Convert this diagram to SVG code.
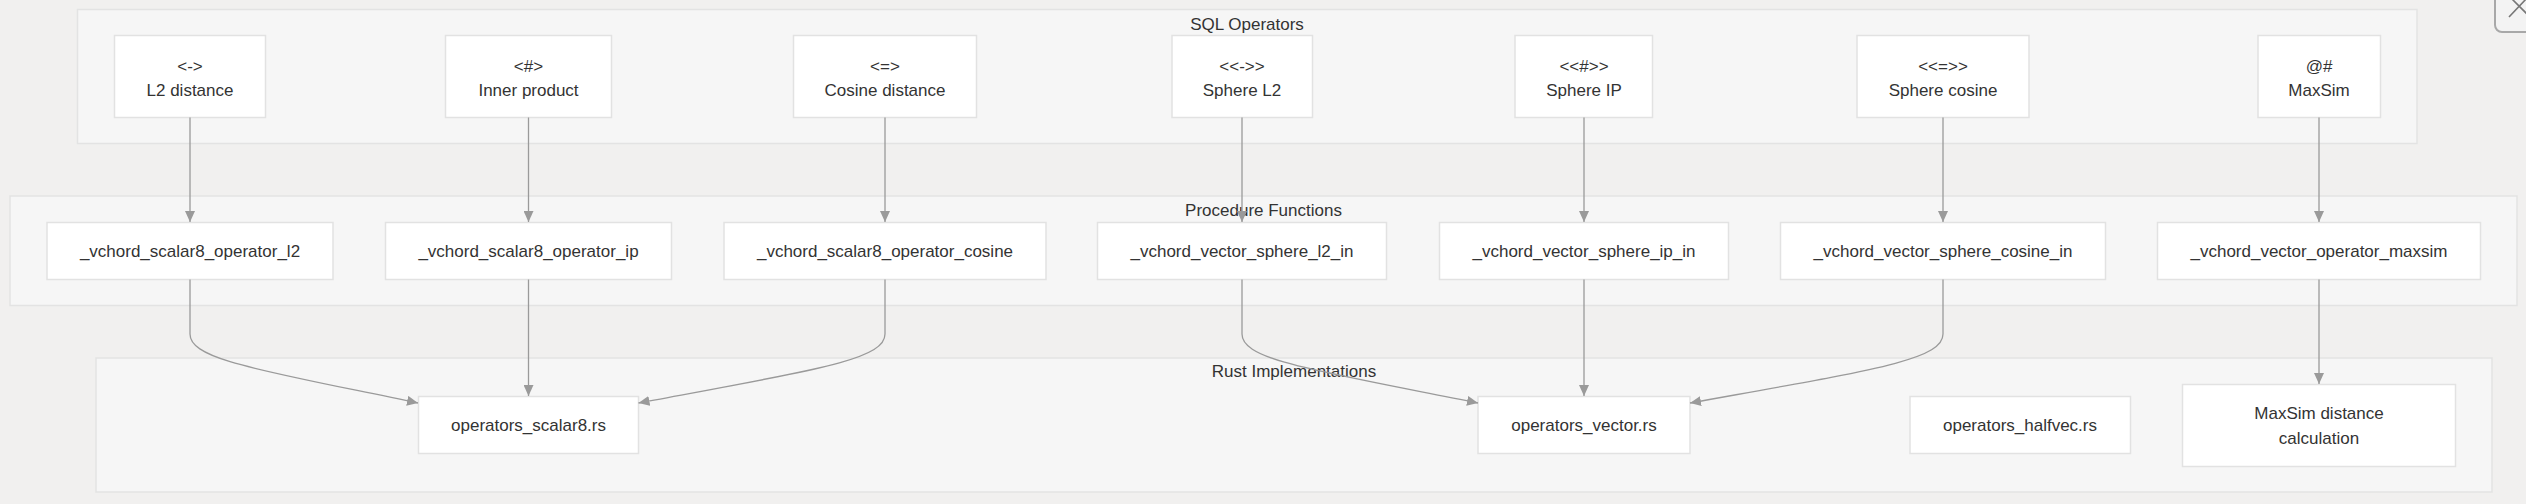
<svg xmlns="http://www.w3.org/2000/svg" width="2526" height="504" viewBox="0 0 2526 504">
<style>
.bg{fill:#f1f0ef}
.cl{fill:#f6f6f6;stroke:#e3e3e3;stroke-width:1.5}
.nd{fill:#ffffff;stroke:#e2e2e2;stroke-width:1.5}
text{font-family:"Liberation Sans",Arial,sans-serif;font-size:17px;fill:#333333;text-anchor:middle;dominant-baseline:central}
.ed{fill:none;stroke:#9a9a9a;stroke-width:1.3;marker-end:url(#ah)}
</style>
<defs>
<marker id="ah" markerUnits="userSpaceOnUse" markerWidth="12" markerHeight="10" refX="11" refY="5" orient="auto">
<path d="M0,0 L11,5 L0,10 z" fill="#9a9a9a"/>
</marker>
</defs>
<rect class="bg" x="0" y="0" width="2526" height="504"/>
<g id="cluster-sql">
<rect class="cl" x="77.5" y="9.5" width="2339.5" height="134"/>
<text x="1247" y="24">SQL Operators</text>
</g>
<g id="cluster-proc">
<rect class="cl" x="10" y="196" width="2507" height="109.5"/>
<text x="1263.5" y="210">Procedure Functions</text>
</g>
<g id="cluster-rust">
<rect class="cl" x="96" y="358" width="2396" height="134"/>
<text x="1294" y="371.5">Rust Implementations</text>
</g>
<g id="op-l2"><rect class="nd" x="114.5" y="35.5" width="151" height="82"/><text x="190" y="66.5">&lt;-&gt;</text><text x="190" y="90.5">L2 distance</text></g>
<g id="op-ip"><rect class="nd" x="445.5" y="35.5" width="166" height="82"/><text x="528.5" y="66.5">&lt;#&gt;</text><text x="528.5" y="90.5">Inner product</text></g>
<g id="op-cos"><rect class="nd" x="793.5" y="35.5" width="183" height="82"/><text x="885" y="66.5">&lt;=&gt;</text><text x="885" y="90.5">Cosine distance</text></g>
<g id="op-sl2"><rect class="nd" x="1172" y="35.5" width="140.5" height="82"/><text x="1242" y="66.5">&lt;&lt;-&gt;&gt;</text><text x="1242" y="90.5">Sphere L2</text></g>
<g id="op-sip"><rect class="nd" x="1515" y="35.5" width="137.5" height="82"/><text x="1584" y="66.5">&lt;&lt;#&gt;&gt;</text><text x="1584" y="90.5">Sphere IP</text></g>
<g id="op-scos"><rect class="nd" x="1857" y="35.5" width="172" height="82"/><text x="1943" y="66.5">&lt;&lt;=&gt;&gt;</text><text x="1943" y="90.5">Sphere cosine</text></g>
<g id="op-maxsim"><rect class="nd" x="2258" y="35.5" width="122.5" height="82"/><text x="2319" y="66.5">@#</text><text x="2319" y="90.5">MaxSim</text></g>
<g id="fn-l2"><rect class="nd" x="47" y="222.5" width="286" height="57"/><text x="190" y="251">_vchord_scalar8_operator_l2</text></g>
<g id="fn-ip"><rect class="nd" x="385.5" y="222.5" width="286" height="57"/><text x="528.5" y="251">_vchord_scalar8_operator_ip</text></g>
<g id="fn-cos"><rect class="nd" x="724" y="222.5" width="322" height="57"/><text x="885" y="251">_vchord_scalar8_operator_cosine</text></g>
<g id="fn-sl2"><rect class="nd" x="1097.5" y="222.5" width="289" height="57"/><text x="1242" y="251">_vchord_vector_sphere_l2_in</text></g>
<g id="fn-sip"><rect class="nd" x="1439.5" y="222.5" width="289" height="57"/><text x="1584" y="251">_vchord_vector_sphere_ip_in</text></g>
<g id="fn-scos"><rect class="nd" x="1780.5" y="222.5" width="325" height="57"/><text x="1943" y="251">_vchord_vector_sphere_cosine_in</text></g>
<g id="fn-maxsim"><rect class="nd" x="2157.5" y="222.5" width="323" height="57"/><text x="2319" y="251">_vchord_vector_operator_maxsim</text></g>
<g id="rs-scalar8"><rect class="nd" x="418.5" y="396.5" width="220" height="57"/><text x="528.5" y="425">operators_scalar8.rs</text></g>
<g id="rs-vector"><rect class="nd" x="1478" y="396.5" width="212" height="57"/><text x="1584" y="425">operators_vector.rs</text></g>
<g id="rs-halfvec"><rect class="nd" x="1910" y="396.5" width="220.5" height="57"/><text x="2020" y="425">operators_halfvec.rs</text></g>
<g id="rs-maxsim"><rect class="nd" x="2182.5" y="384.5" width="273" height="82"/><text x="2319" y="413.5">MaxSim distance</text><text x="2319" y="438">calculation</text></g>
<g id="edges">
<path class="ed" d="M190,117.5 V222"/>
<path class="ed" d="M528.5,117.5 V222"/>
<path class="ed" d="M885,117.5 V222"/>
<path class="ed" d="M1242,117.5 V222"/>
<path class="ed" d="M1584,117.5 V222"/>
<path class="ed" d="M1943,117.5 V222"/>
<path class="ed" d="M2319,117.5 V222"/>
<path class="ed" d="M190,279.5 V334 C190,360 260,370 418,403"/>
<path class="ed" d="M528.5,279.5 V396"/>
<path class="ed" d="M885,279.5 V334 C885,360 815,370 638.5,403"/>
<path class="ed" d="M1242,279.5 V334 C1242,360 1312,370 1478,403"/>
<path class="ed" d="M1584,279.5 V396"/>
<path class="ed" d="M1943,279.5 V334 C1943,360 1873,370 1690,403"/>
<path class="ed" d="M2319,279.5 V384"/>
</g>
<g id="close-button">
<rect x="2495" y="-12" width="50" height="44" rx="7" fill="#f3f3f3" stroke="#a8a8a8" stroke-width="2"/>
<path d="M2509,17 L2527,-2 M2512,-1 L2527,14" stroke="#777777" stroke-width="1.6" fill="none"/>
</g>
</svg>
